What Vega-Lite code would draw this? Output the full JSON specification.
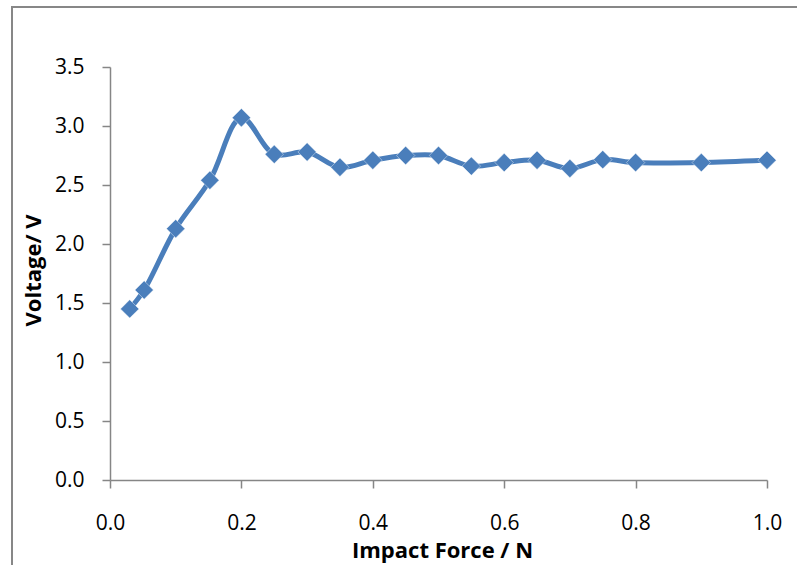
{
  "$schema": "https://vega.github.io/schema/vega-lite/v6.json",
  "width": 785,
  "height": 558,
  "autosize": "none",
  "padding": {"left": 12, "top": 7, "right": 0, "bottom": 0},
  "background": "white",
  "config": {
    "view": {"stroke": "#878787", "strokeWidth": 2, "strokeDash": [785, 1343, 558]},
    "font": "Open Sans"
  },
  "data": {
    "values": [
      {"force": 0.03, "voltage": 1.45},
      {"force": 0.052, "voltage": 1.61},
      {"force": 0.1, "voltage": 2.13},
      {"force": 0.152, "voltage": 2.54},
      {"force": 0.2, "voltage": 3.07},
      {"force": 0.25, "voltage": 2.76},
      {"force": 0.3, "voltage": 2.78},
      {"force": 0.35, "voltage": 2.65},
      {"force": 0.4, "voltage": 2.71},
      {"force": 0.45, "voltage": 2.75},
      {"force": 0.5, "voltage": 2.75},
      {"force": 0.55, "voltage": 2.66},
      {"force": 0.6, "voltage": 2.69},
      {"force": 0.65, "voltage": 2.71},
      {"force": 0.7, "voltage": 2.64},
      {"force": 0.75, "voltage": 2.715},
      {"force": 0.8, "voltage": 2.69},
      {"force": 0.9, "voltage": 2.69},
      {"force": 1.0, "voltage": 2.71}
    ]
  },
  "encoding": {
    "x": {
      "field": "force",
      "type": "quantitative",
      "scale": {"domain": [0, 1], "range": [98, 755], "nice": false, "zero": false},
      "axis": {
        "title": "Impact Force / N",
        "offset": -85,
        "values": [0, 0.2, 0.4, 0.6, 0.8, 1.0],
        "format": ".1f",
        "grid": false,
        "domainColor": "#868686",
        "domainWidth": 1.5,
        "tickColor": "#868686",
        "tickWidth": 1.5,
        "tickSize": 8,
        "labelFontSize": 21,
        "labelColor": "#000000",
        "labelPadding": 24,
        "labelFont": "Open Sans",
        "labelFlush": false,
        "titleFontSize": 22,
        "titleFontWeight": "bold",
        "titleColor": "#000000",
        "titleFont": "Open Sans",
        "titleX": 430,
        "titleY": 70,
        "titleBaseline": "middle",
        "titleAlign": "center"
      }
    },
    "y": {
      "field": "voltage",
      "type": "quantitative",
      "scale": {"domain": [0, 3.5], "range": [473, 60], "nice": false, "zero": false},
      "axis": {
        "title": "Voltage/ V",
        "offset": -98,
        "values": [0, 0.5, 1.0, 1.5, 2.0, 2.5, 3.0, 3.5],
        "format": ".1f",
        "grid": false,
        "domainColor": "#868686",
        "domainWidth": 1.5,
        "tickColor": "#868686",
        "tickWidth": 1.5,
        "tickSize": 8,
        "labelFontSize": 21,
        "labelColor": "#000000",
        "labelPadding": 18,
        "labelFont": "Open Sans",
        "labelFlush": false,
        "titleFontSize": 22,
        "titleFontWeight": "bold",
        "titleColor": "#000000",
        "titleFont": "Open Sans",
        "titleX": -77,
        "titleY": 263,
        "titleBaseline": "middle",
        "titleAlign": "center",
        "titleAngle": -90
      }
    }
  },
  "layer": [
    {
      "mark": {"type": "line", "color": "#4a7ebb", "strokeWidth": 5, "interpolate": "catmull-rom"}
    },
    {
      "mark": {"type": "point", "shape": "diamond", "filled": true, "size": 340, "color": "#4a7ebb", "opacity": 1, "stroke": "#ffffff", "strokeWidth": 0.6, "strokeOpacity": 0.7}
    }
  ]
}
